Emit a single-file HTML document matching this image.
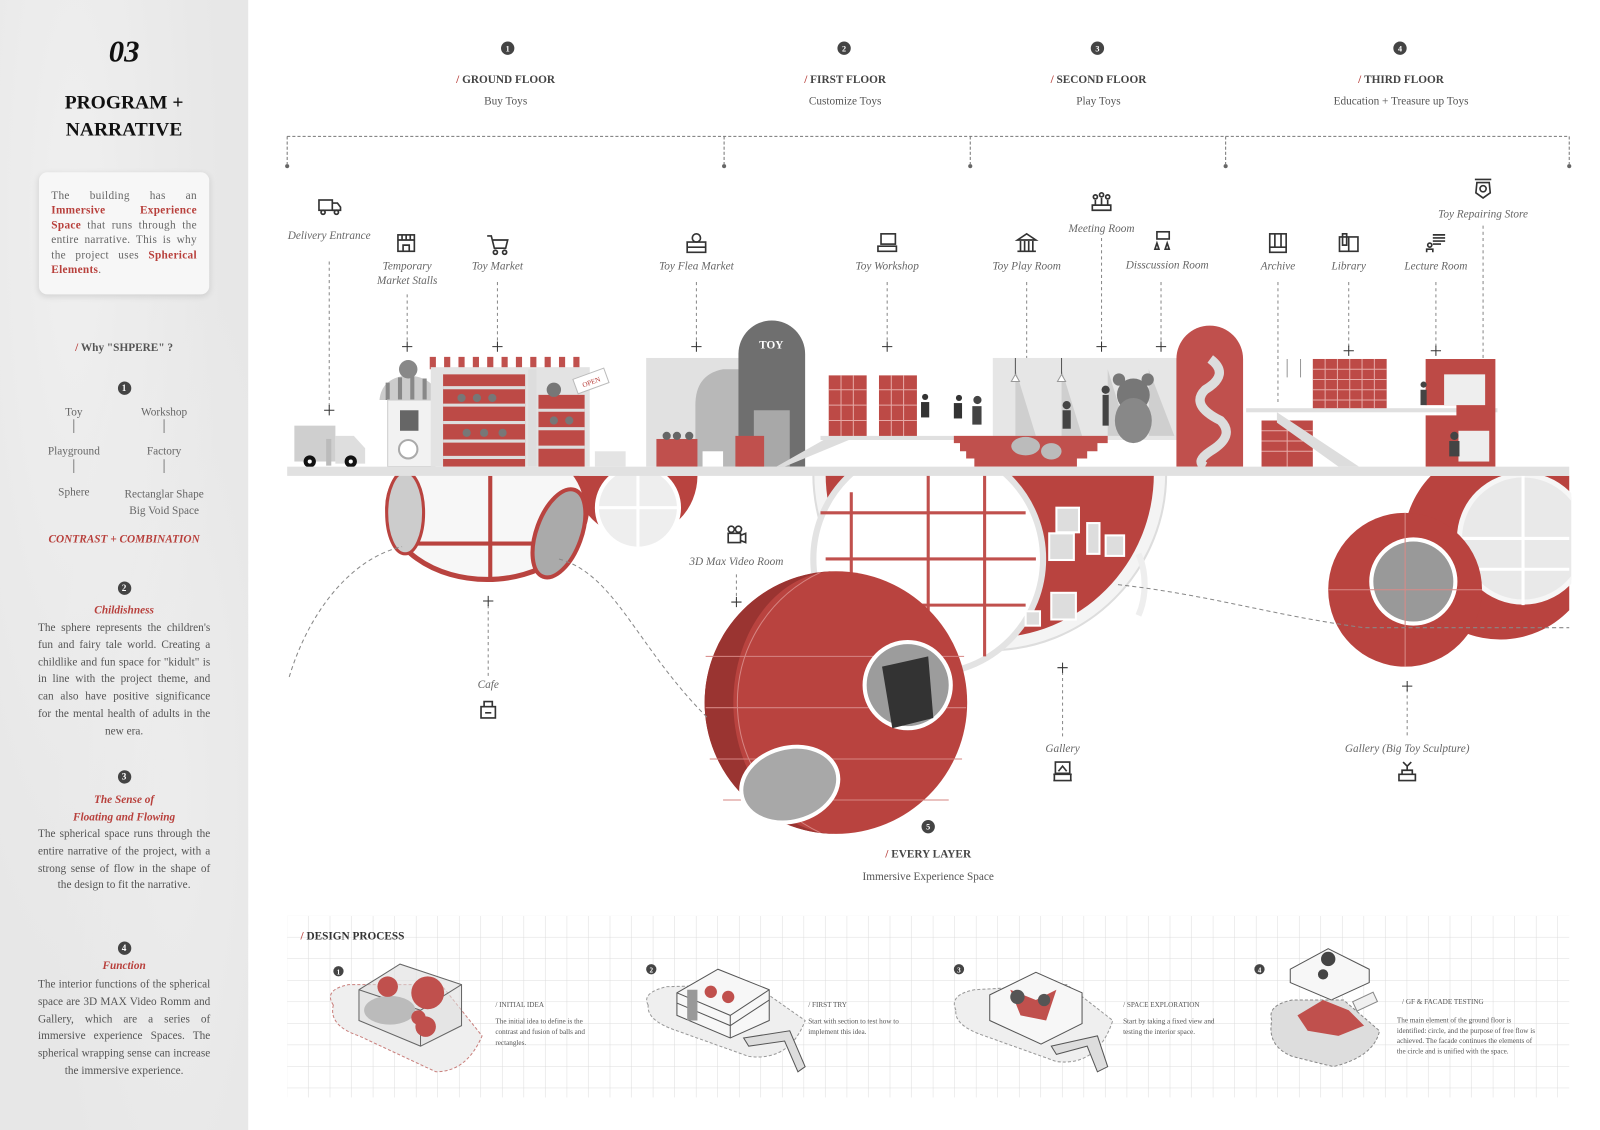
<!DOCTYPE html>
<html><head><meta charset="utf-8"><style>
html,body{margin:0;padding:0;width:1600px;height:1130px;overflow:hidden;background:#fff}
#c{position:absolute;left:0;top:0;width:1560px;height:1102px;transform:scale(1.02564);transform-origin:0 0;font-family:"Liberation Serif",serif}
#lp{position:absolute;left:0;top:0;width:242px;height:1102px;background:#e7e7e7;background-image:radial-gradient(ellipse at 30% 20%,#efefef,transparent 60%),radial-gradient(ellipse at 70% 70%,#ececec,transparent 50%)}
.a{position:absolute;text-align:center;left:0;width:242px;color:#333}
.p{position:absolute;left:37px;width:168px;font-size:11px;line-height:16.8px;color:#555;text-align:justify;text-align-last:center}
.r{color:#b8403c}
.n{display:inline-block;width:13px;height:13px;border-radius:50%;background:#444;color:#fff;font-size:9px;line-height:13px;font-weight:bold}
svg{position:absolute;left:0;top:0}
</style></head><body><div id="c">
<div id="lp">
<div class="a" style="top:34px;font-size:30px;font-weight:bold;font-style:italic;color:#111">03</div>
<div class="a" style="top:88px;font-size:19px;font-weight:bold;line-height:26px;color:#111">PROGRAM +<br>NARRATIVE</div>
<div style="position:absolute;left:38px;top:168px;width:166px;height:119px;background:#f7f7f7;border-radius:8px;box-shadow:0 2px 6px rgba(0,0,0,.12)"></div>
<div class="p" style="top:184px;left:50px;width:142px;font-size:11px;line-height:14.4px;letter-spacing:.3px;text-align-last:left;color:#666">The building has an <b class="r">Immersive Experience Space</b> that runs through the entire narrative. This is why the project uses <b class="r">Spherical Elements</b>.</div>
<div class="a" style="top:333px;font-size:11px;font-weight:bold;color:#555"><span class="r">/</span> Why "SHPERE" ?</div>
<div class="a" style="top:368px"><span class="n">1</span></div>
<div style="position:absolute;left:0;top:396px;width:242px;font-size:11px;color:#666">
<div style="position:absolute;left:42px;width:60px;text-align:center">Toy</div>
<div style="position:absolute;left:42px;width:60px;text-align:center;top:14px">│</div>
<div style="position:absolute;left:42px;width:60px;text-align:center;top:38px">Playground</div>
<div style="position:absolute;left:42px;width:60px;text-align:center;top:53px">│</div>
<div style="position:absolute;left:42px;width:60px;text-align:center;top:78px">Sphere</div>
<div style="position:absolute;left:110px;width:100px;text-align:center">Workshop</div>
<div style="position:absolute;left:110px;width:100px;text-align:center;top:14px">│</div>
<div style="position:absolute;left:110px;width:100px;text-align:center;top:38px">Factory</div>
<div style="position:absolute;left:110px;width:100px;text-align:center;top:53px">│</div>
<div style="position:absolute;left:110px;width:100px;text-align:center;top:78px;line-height:16px">Rectanglar Shape<br>Big Void Space</div>
</div>
<div class="a r" style="top:520px;font-size:11px;font-weight:bold;font-style:italic">CONTRAST + COMBINATION</div>
<div class="a" style="top:563px"><span class="n">2</span></div>
<div class="a r" style="top:589px;font-size:11px;font-weight:bold;font-style:italic">Childishness</div>
<div class="p" style="top:604px">The sphere represents the children's fun and fairy tale world. Creating a childlike and fun space for "kidult" is in line with the project theme, and can also have positive significance for the mental health of adults in the new era.</div>
<div class="a" style="top:747px"><span class="n">3</span></div>
<div class="a r" style="top:772px;font-size:11px;font-weight:bold;font-style:italic;line-height:17px">The Sense of<br>Floating and Flowing</div>
<div class="p" style="top:805px">The spherical space runs through the entire narrative of the project, with a strong sense of flow in the shape of the design to fit the narrative.</div>
<div class="a" style="top:914px"><span class="n">4</span></div>
<div class="a r" style="top:936px;font-size:11px;font-weight:bold;font-style:italic">Function</div>
<div class="p" style="top:952px">The interior functions of the spherical space are 3D MAX Video Romm and Gallery, which are a series of immersive experience Spaces. The spherical wrapping sense can increase the immersive experience.</div>
</div>

<svg width="1560" height="1102" viewBox="0 0 1560 1102" font-family="Liberation Serif, serif">
<defs>
<pattern id="g" width="21" height="21" patternUnits="userSpaceOnUse" x="280" y="893"><path d="M21 0V21M0 21H21" stroke="#dcdcdc" stroke-width="1" fill="none"/></pattern>
<clipPath id="below"><rect x="270" y="462" width="1262" height="400"/></clipPath>
</defs>
<!-- header -->
<g font-size="11" text-anchor="middle" fill="#555">
<g fill="#444"><circle cx="495" cy="47" r="6.5"/><circle cx="823" cy="47" r="6.5"/><circle cx="1070" cy="47" r="6.5"/><circle cx="1365" cy="47" r="6.5"/></g>
<g fill="#fff" font-size="8" font-weight="bold"><text x="495" y="50">1</text><text x="823" y="50">2</text><text x="1070" y="50">3</text><text x="1365" y="50">4</text></g>
<g font-weight="bold" fill="#444"><text x="493" y="81"><tspan fill="#b8403c">/ </tspan>GROUND FLOOR</text><text x="824" y="81"><tspan fill="#b8403c">/ </tspan>FIRST FLOOR</text><text x="1071" y="81"><tspan fill="#b8403c">/ </tspan>SECOND FLOOR</text><text x="1366" y="81"><tspan fill="#b8403c">/ </tspan>THIRD FLOOR</text></g>
<text x="493" y="102">Buy Toys</text><text x="824" y="102">Customize Toys</text><text x="1071" y="102">Play Toys</text><text x="1366" y="102">Education + Treasure up Toys</text>
</g>
<g stroke="#777" stroke-dasharray="3,2" fill="none"><path d="M280 133H1530M280 133V160M706 133V160M946 133V160M1195 133V160M1530 133V160"/></g>
<g fill="#666"><circle cx="280" cy="162" r="2"/><circle cx="706" cy="162" r="2"/><circle cx="946" cy="162" r="2"/><circle cx="1195" cy="162" r="2"/><circle cx="1530" cy="162" r="2"/></g>

<!-- room labels -->
<g font-size="11" font-style="italic" fill="#666" text-anchor="middle">
<text x="321" y="233">Delivery Entrance</text>
<text x="397" y="263">Temporary</text><text x="397" y="277">Market Stalls</text>
<text x="485" y="263">Toy Market</text>
<text x="679" y="263">Toy Flea Market</text>
<text x="865" y="263">Toy Workshop</text>
<text x="1001" y="263">Toy Play Room</text>
<text x="1074" y="226">Meeting Room</text>
<text x="1138" y="262">Disscussion Room</text>
<text x="1246" y="263">Archive</text>
<text x="1315" y="263">Library</text>
<text x="1400" y="263">Lecture Room</text>
<text x="1446" y="212">Toy Repairing Store</text>
<text x="718" y="551">3D Max Video Room</text>
<text x="476" y="671">Cafe</text>
<text x="1036" y="733">Gallery</text>
<text x="1372" y="733">Gallery (Big Toy Sculpture)</text>
</g>
<!-- icons -->
<g fill="none" stroke="#333" stroke-width="1.6">
<g transform="translate(321,201)"><rect x="-10" y="-6" width="13" height="10"/><path d="M3 -3H8L11 1V4H3"/><circle cx="-6" cy="6" r="2"/><circle cx="7" cy="6" r="2"/></g>
<g transform="translate(396,237)"><rect x="-8" y="-8" width="16" height="16"/><path d="M-8 -3H8M-4 -8V-3M0 -8V-3M4 -8V-3M-3 8V2H3V8"/></g>
<g transform="translate(485,238)"><path d="M-10 -8H-6L-3 4H8L10 -4H-5"/><circle cx="-2" cy="8" r="2"/><circle cx="7" cy="8" r="2"/></g>
<g transform="translate(679,238)"><rect x="-9" y="-2" width="18" height="10"/><circle cx="0" cy="-6" r="4"/><path d="M-9 3H9"/></g>
<g transform="translate(865,236)"><rect x="-6" y="-8" width="14" height="10"/><path d="M-9 4H9V9H-9Z"/></g>
<g transform="translate(1001,237)"><path d="M-9 -3L0 -9L9 -3ZM-9 8H9M-6 -2V8M-2 -2V8M2 -2V8M6 -2V8"/></g>
<g transform="translate(1074,197)"><path d="M-9 8H9V3H-9ZM-6 3V-2M0 3V-4M6 3V-2"/><circle cx="-6" cy="-5" r="2"/><circle cx="0" cy="-7" r="2"/><circle cx="6" cy="-5" r="2"/></g>
<g transform="translate(1132,235)"><rect x="-4" y="-9" width="12" height="7"/><path d="M-6 8L-4 2L-2 8ZM4 8L6 2L8 8Z"/></g>
<g transform="translate(1246,237)"><rect x="-8" y="-9" width="16" height="18"/><path d="M-8 4H8M-3 -9V4M3 -9V4"/></g>
<g transform="translate(1315,237)"><path d="M-9 -6H9V8H-9ZM0 -6V8M-6 -9H-2V2H-6Z"/></g>
<g transform="translate(1400,237)"><path d="M-3 -8H9M-3 -5H9M-3 -2H9M-3 1H5"/><circle cx="-6" cy="2" r="2"/><path d="M-9 9V6H-3V9"/></g>
<g transform="translate(1446,184)"><path d="M-8 -9H8M-6 -6H6L7 4L0 9L-7 4Z"/><circle cx="0" cy="0" r="3"/></g>
<g transform="translate(718,522)"><rect x="-8" y="-2" width="12" height="9"/><circle cx="-5" cy="-6" r="3"/><circle cx="2" cy="-6" r="3"/><path d="M4 0L9 -2V7L4 5"/></g>
<g transform="translate(476,692)"><rect x="-7" y="-3" width="14" height="11"/><path d="M-4 -3V-8H4V-3M-3 3H3"/></g>
<g transform="translate(1036,752)"><rect x="-7" y="-9" width="14" height="11"/><path d="M-9 3H9M-8 3V9M8 3V9M-9 9H9M-4 0L0 -5L4 0"/></g>
<g transform="translate(1372,752)"><path d="M-4 -9L0 -5L4 -9M0 -5V-1M-5 -1H5V3H-5ZM-8 3H8V9H-8Z"/></g>
</g>
<!-- leaders -->
<g stroke="#888" stroke-dasharray="3,3" fill="none">
<path d="M321 255V398M397 287V336M485 275V336M679 275V336M865 275V336M1001 275V408M1074 232V336M1132 275V336M1246 275V392M1315 275V340M1400 275V340M1446 220V420M718 560V585M476 590V660M1036 655V720M1372 672V720"/>
</g>
<g stroke="#333" stroke-width="1"><path d="M316 400H326M321 395V405M392 338H402M397 333V343M480 338H490M485 333V343M674 338H684M679 333V343M860 338H870M865 333V343M1069 338H1079M1074 333V343M1127 338H1137M1132 333V343M1310 342H1320M1315 337V347M1395 342H1405M1400 337V347M713 587H723M718 582V592M471 586H481M476 581V591M1031 651H1041M1036 646V656M1367 669H1377M1372 664V674M996 408H1006M1001 403V413"/></g>

<!-- spheres below -->
<g clip-path="url(#below)">
<circle cx="965" cy="462" r="172" fill="#f4f4f4" stroke="#ddd" stroke-width="2"/>
<circle cx="965" cy="462" r="160" fill="#b9433f"/>
<circle cx="905" cy="545" r="112" fill="#fff" stroke="#e3e3e3" stroke-width="6"/>
<path d="M805 545H1010M905 440V650M830 480V640M960 450V640M800 500H1000M800 590H1000" stroke="#c0504d" stroke-width="3" fill="none"/>
<path d="M1110 540A30 50 0 0 1 1110 600" stroke="#eee" stroke-width="6" fill="none"/>
<g fill="#ddd" stroke="#fff" stroke-width="2"><rect x="1030" y="495" width="22" height="24"/><rect x="1023" y="520" width="24" height="26"/><rect x="1060" y="510" width="12" height="30"/><rect x="1078" y="522" width="18" height="20"/><rect x="1025" y="578" width="24" height="26"/><rect x="1000" y="596" width="14" height="14"/></g>
<path d="M560 464H680A60 60 0 0 1 560 464Z" fill="#b9433f"/>
<circle cx="622" cy="495" r="40" fill="#eee" stroke="#fff" stroke-width="4"/>
<path d="M622 455V535M582 495H662" stroke="#fff" stroke-width="3"/>
<ellipse cx="475" cy="495" rx="97" ry="70" fill="#f7f7f7" stroke="#b9433f" stroke-width="5"/>
<path d="M478 464V565M400 530H565M395 500V540" stroke="#b9433f" stroke-width="4" fill="none"/>
<ellipse cx="545" cy="520" rx="22" ry="45" fill="#aaa" stroke="#b9433f" stroke-width="4" transform="rotate(20 545 520)"/>
<ellipse cx="395" cy="500" rx="18" ry="40" fill="#ccc" stroke="#b9433f" stroke-width="3"/>
<path d="M1395 464H1530V595A75 75 0 0 1 1395 464Z" fill="#b9433f"/>
<circle cx="1485" cy="525" r="62" fill="#e9e9e9" stroke="#f6f6f6" stroke-width="5"/>
<path d="M1485 463V590M1425 525H1530M1425 555H1530" stroke="#fff" stroke-width="3"/>
<circle cx="1370" cy="575" r="75" fill="#b9433f"/>
<circle cx="1378" cy="567" r="41" fill="#999" stroke="#fff" stroke-width="4"/>
<path d="M1295 575H1445M1370 500V650" stroke="#d98a87" stroke-width="1"/>
</g>
<!-- front sphere -->
<circle cx="815" cy="685" r="128" fill="#b9433f"/>
<path d="M815 557A128 128 0 0 0 815 813A100 128 0 0 1 815 557Z" fill="#9a3431"/>
<path d="M688 640H940M688 690H942M692 740H938M705 780H925M800 558A140 140 0 0 0 800 812" stroke="#d68582" stroke-width="1" fill="none"/>
<circle cx="885" cy="668" r="42" fill="#9c9c9c" stroke="#fff" stroke-width="4"/>
<path d="M860 650L905 640L910 700L870 710Z" fill="#333"/>
<ellipse cx="770" cy="765" rx="48" ry="36" fill="#a8a8a8" stroke="#fff" stroke-width="4" transform="rotate(-15 770 765)"/>
<!-- dashed flow curves -->
<g stroke="#888" stroke-dasharray="4,3" fill="none">
<path d="M282 660C300 600 340 545 392 533"/>
<path d="M545 545C600 560 620 630 690 700"/>
<path d="M1090 570C1180 580 1240 600 1330 612H1530"/>
</g>
<g fill="#444"><circle cx="905" cy="806" r="6.5"/></g><text x="905" y="809" fill="#fff" font-size="8" font-weight="bold" text-anchor="middle">5</text>
<text x="905" y="836" font-size="11" font-weight="bold" fill="#444" text-anchor="middle"><tspan fill="#b8403c">/ </tspan>EVERY LAYER</text>
<text x="905" y="858" font-size="11" fill="#555" text-anchor="middle">Immersive Experience Space</text>

<!-- buildings above slab -->
<g>
<rect x="287" y="415" width="40" height="35" fill="#cfcfcf"/><path d="M327 425H345L356 437V452H327Z" fill="#dedede"/>
<circle cx="302" cy="450" r="6" fill="#111"/><circle cx="342" cy="450" r="6" fill="#111"/><circle cx="302" cy="450" r="2" fill="#fff"/><circle cx="342" cy="450" r="2" fill="#fff"/>
<rect x="318" y="428" width="5" height="26" fill="#bbb"/>
<path d="M370 390Q372 368 398 366Q425 368 428 390Z" fill="#ccc"/>
<path d="M378 373V390M390 368V390M402 367V390M414 369V390" stroke="#888" stroke-width="4"/>
<circle cx="398" cy="360" r="9" fill="#888"/>
<rect x="378" y="390" width="46" height="65" fill="#f2f2f2" stroke="#ccc"/>
<rect x="390" y="400" width="18" height="20" fill="#666"/><circle cx="398" cy="438" r="9" fill="#fff" stroke="#aaa" stroke-width="2"/>
<rect x="420" y="348" width="155" height="12" fill="#fff"/>
<path d="M422 348V360M436 348V360M450 348V360M464 348V360M478 348V360M492 348V360M506 348V360M520 348V360M534 348V360M548 348V360M562 348V360" stroke="#c0504d" stroke-width="6"/>
<rect x="420" y="358" width="155" height="97" fill="#e3e3e3"/>
<rect x="432" y="365" width="80" height="90" fill="#bd4a46"/>
<path d="M432 378H512M432 395H512M432 412H512M432 430H512M432 446H512" stroke="#ddd" stroke-width="3"/>
<rect x="525" y="385" width="45" height="70" fill="#bd4a46"/>
<path d="M525 400H570M525 418H570M525 436H570" stroke="#ddd" stroke-width="3"/>
<rect x="515" y="360" width="8" height="95" fill="#ddd"/>
<g fill="#777"><circle cx="450" cy="388" r="4"/><circle cx="465" cy="388" r="4"/><circle cx="480" cy="388" r="4"/><circle cx="455" cy="422" r="4"/><circle cx="472" cy="422" r="4"/><circle cx="490" cy="422" r="4"/><circle cx="540" cy="380" r="7"/><circle cx="540" cy="410" r="4"/><circle cx="555" cy="410" r="4"/></g>
<rect x="560" y="364" width="32" height="15" fill="#fff" stroke="#bbb" transform="rotate(-20 576 371)"/><text x="576" y="375" font-size="7" fill="#b8403c" text-anchor="middle" transform="rotate(-20 576 371)">OPEN</text>
<rect x="580" y="440" width="30" height="15" fill="#e4e4e4"/>
<rect x="630" y="349" width="95" height="106" fill="#e1e1e1"/>
<path d="M678 455V395Q678 365 705 360H725V455Z" fill="#b8b8b8"/>
<path d="M720 455V345A32 32 0 0 1 785 345V455Z" fill="#6f6f6f"/>
<text x="752" y="340" font-size="11" font-weight="bold" fill="#fff" text-anchor="middle">TOY</text>
<rect x="735" y="400" width="35" height="55" fill="#a8a8a8"/>
<rect x="640" y="428" width="40" height="27" fill="#c0504d"/><rect x="685" y="440" width="20" height="15" fill="#fff"/><rect x="717" y="425" width="28" height="30" fill="#c0504d"/>
<g fill="#666"><circle cx="650" cy="425" r="4"/><circle cx="660" cy="425" r="4"/><circle cx="672" cy="425" r="4"/></g>
<path d="M757 455L810 425H830V428L765 455Z" fill="#ddd"/>
<rect x="808" y="366" width="37" height="60" fill="#bd4a46"/><rect x="857" y="366" width="37" height="60" fill="#bd4a46"/>
<path d="M808 380H845M808 395H845M808 410H845M857 380H894M857 395H894M857 410H894M820 366V426M832 366V426M869 366V426M881 366V426" stroke="#e6a9a6" stroke-width="1"/>
<rect x="800" y="425" width="170" height="4" fill="#e0e0e0"/>
<g fill="#333"><circle cx="902" cy="387" r="3"/><rect x="898" y="392" width="8" height="15"/><circle cx="935" cy="388" r="3"/><rect x="930" y="393" width="8" height="15"/></g>
<rect x="968" y="349" width="190" height="80" fill="#e6e6e6"/>
<path d="M990 360V425H1010ZM1035 360V425H1055ZM1080 360V425H1100ZM1120 360V425H1145Z" fill="#cfcfcf"/>
<path d="M990 349V365M1035 349V365" stroke="#555"/><path d="M986 372H994L990 365ZM1031 372H1039L1035 365Z" fill="#fff" stroke="#999"/>
<path d="M930 425H1080V432H1070V440H1060V447H1050V455H950V447H942V440H936V432H930Z" fill="#c0504d"/>
<circle cx="1105" cy="385" r="16" fill="#777"/><ellipse cx="1105" cy="410" rx="18" ry="22" fill="#888"/><circle cx="1091" cy="370" r="6" fill="#777"/><circle cx="1119" cy="370" r="6" fill="#777"/>
<g fill="#444"><circle cx="1040" cy="395" r="4"/><rect x="1036" y="400" width="8" height="18"/><circle cx="1078" cy="380" r="4"/><rect x="1075" y="385" width="6" height="30"/><circle cx="953" cy="390" r="4"/><rect x="948" y="396" width="9" height="18"/></g>
<g fill="#bbb"><ellipse cx="1000" cy="435" rx="14" ry="9"/><ellipse cx="1025" cy="440" rx="10" ry="8"/></g>
<path d="M1147 455V350A32 32 0 0 1 1212 350V455Z" fill="#c0504d"/>
<path d="M1180 350Q1200 365 1175 380Q1160 395 1190 410Q1205 425 1180 440Q1165 450 1175 455" stroke="#ddd" stroke-width="9" fill="none"/>
<rect x="1215" y="398" width="245" height="4" fill="#e0e0e0"/>
<rect x="1230" y="410" width="50" height="45" fill="#bd4a46"/>
<path d="M1230 420H1280M1230 430H1280M1230 440H1280M1255 410V455" stroke="#e6a9a6"/>
<path d="M1245 402L1325 455H1305L1245 412Z" fill="#ddd"/>
<rect x="1280" y="350" width="72" height="48" fill="#bd4a46"/>
<path d="M1280 360H1352M1280 370H1352M1280 380H1352M1280 390H1352M1292 350V398M1304 350V398M1316 350V398M1328 350V398M1340 350V398" stroke="#e6a9a6"/>
<path d="M1255 350V368M1268 350V368" stroke="#999"/>
<path d="M1390 350H1458V455H1390V405H1420V395H1390Z" fill="#bd4a46"/>
<rect x="1408" y="365" width="40" height="30" fill="#eee"/><rect x="1422" y="420" width="30" height="30" fill="#eee"/>
<g fill="#444"><circle cx="1388" cy="375" r="3"/><rect x="1385" y="380" width="6" height="15"/><circle cx="1418" cy="425" r="4"/><rect x="1413" y="430" width="10" height="15"/></g>
</g>
<rect x="280" y="455" width="1250" height="9" fill="#e1e1e1"/>

<!-- design process -->
<rect x="280" y="893" width="1250" height="177" fill="url(#g)"/>
<text x="293" y="916" font-size="11" font-weight="bold" fill="#333"><tspan fill="#b8403c">/ </tspan>DESIGN PROCESS</text>
<g fill="#444"><circle cx="330" cy="947" r="5"/><circle cx="635" cy="945" r="5"/><circle cx="935" cy="945" r="5"/><circle cx="1228" cy="945" r="5"/></g>
<g fill="#fff" font-size="7" text-anchor="middle" font-weight="bold"><text x="330" y="950">1</text><text x="635" y="948">2</text><text x="935" y="948">3</text><text x="1228" y="948">4</text></g>
<path d="M325 980Q315 965 340 960L430 960L470 1010Q455 1045 425 1045L350 1010Q320 1000 325 980Z" fill="#efefef" stroke="#c9807d" stroke-dasharray="3,2"/>
<path d="M350 965L390 940L450 960V1000L410 1020L350 995Z" fill="#ddd" fill-opacity=".6" stroke="#666"/>
<path d="M350 965L410 985L450 960M410 985V1020" stroke="#666" fill="none"/>
<ellipse cx="380" cy="985" rx="25" ry="14" fill="#bbb"/>
<g fill="#c0504d"><circle cx="378" cy="962" r="10"/><circle cx="417" cy="968" r="16"/><circle cx="408" cy="992" r="7"/><circle cx="415" cy="1001" r="10"/></g>
<g font-size="7" fill="#555"><text x="483" y="982">/ INITIAL IDEA</text><text x="483" y="998">The initial idea to define is the</text><text x="483" y="1008">contrast and fusion of balls and</text><text x="483" y="1019">rectangles.</text></g>
<path d="M632 980Q625 968 650 962L735 960L785 995Q770 1035 730 1030L660 1005Q630 995 632 980Z" fill="#efefef" stroke="#999" stroke-dasharray="3,2"/>
<path d="M660 968L700 945L750 965V995L712 1012L660 990Z" fill="#f7f7f7" stroke="#555"/>
<path d="M660 968L712 990L750 965M712 990V1012M660 978L712 1000L750 975" stroke="#555" fill="none"/>
<rect x="670" y="965" width="10" height="30" fill="#999"/>
<g fill="#c0504d"><circle cx="693" cy="967" r="6"/><circle cx="710" cy="972" r="6"/></g>
<path d="M725 1012L770 1005L785 1040L778 1045L765 1015L730 1020Z" fill="#ddd" stroke="#555"/>
<g font-size="7" fill="#555"><text x="788" y="982">/ FIRST TRY</text><text x="788" y="998">Start with section to test how to</text><text x="788" y="1008">implement this idea.</text></g>
<path d="M932 985Q925 970 950 965L1040 960L1085 995Q1070 1040 1030 1035L960 1010Q930 1000 932 985Z" fill="#efefef" stroke="#999" stroke-dasharray="3,2"/>
<path d="M965 970L1010 948L1055 968V998L1015 1018L965 995Z" fill="#f7f7f7" stroke="#555"/>
<path d="M985 965L1010 975L1030 965L1020 995L995 990Z" fill="#c0504d"/>
<g fill="#555"><circle cx="992" cy="972" r="7"/><circle cx="1018" cy="975" r="6"/></g>
<path d="M1025 1020L1070 1010L1080 1040L1070 1045L1060 1020L1030 1028Z" fill="#ddd" stroke="#555"/>
<g font-size="7" fill="#555"><text x="1095" y="982">/ SPACE EXPLORATION</text><text x="1095" y="998">Start by taking a fixed view and</text><text x="1095" y="1008">testing the interior space.</text></g>
<path d="M1258 945L1295 925L1335 945V958L1298 975L1258 958Z" fill="#f7f7f7" stroke="#555"/>
<circle cx="1295" cy="935" r="7" fill="#444"/><circle cx="1290" cy="950" r="5" fill="#444"/>
<path d="M1240 995Q1235 980 1260 975L1310 975L1345 1005Q1340 1030 1300 1040L1260 1030Q1235 1020 1240 995Z" fill="#ddd" stroke="#888" stroke-dasharray="3,2"/>
<path d="M1265 990L1290 975L1315 985L1330 1000L1305 1010L1275 1005Z" fill="#c0504d"/>
<rect x="1320" y="972" width="22" height="10" fill="#f0f0f0" stroke="#888" transform="rotate(-25 1330 977)"/>
<g font-size="7" fill="#555"><text x="1367" y="979">/ GF &amp; FACADE TESTING</text><text x="1362" y="997">The main element of the ground floor is</text><text x="1362" y="1007">identified: circle, and the purpose of free flow is</text><text x="1362" y="1017">achieved. The facade continues the elements of</text><text x="1362" y="1027">the circle and is unified with the space.</text></g>
</svg>
</div></body></html>
